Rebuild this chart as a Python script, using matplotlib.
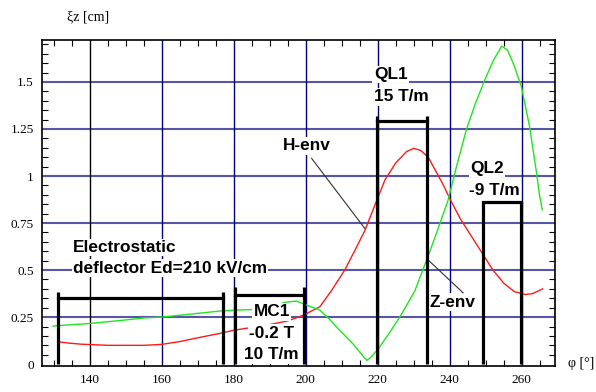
import matplotlib
matplotlib.use("Agg")
import matplotlib.pyplot as plt
from matplotlib.ticker import MultipleLocator, FixedLocator

# H-envelope (red)
h_phi = [131.2, 134, 137.7, 145, 155, 160, 165, 170, 176, 180, 185, 190, 195, 199.3,
         203.9, 207.1, 210.8, 213.5, 216.4, 219.7, 222, 225, 228, 230, 232, 234, 236,
         238, 240, 243, 246, 249, 252, 255, 258, 261, 263, 265.8]
h_env = [0.119, 0.112, 0.106, 0.10, 0.10, 0.105, 0.12, 0.14, 0.163, 0.18, 0.195, 0.21,
         0.23, 0.26, 0.305, 0.39, 0.50, 0.60, 0.71, 0.87, 0.98, 1.07, 1.13, 1.147,
         1.135, 1.10, 1.03, 0.96, 0.88, 0.77, 0.68, 0.59, 0.50, 0.43, 0.385, 0.37,
         0.375, 0.40]

# Z-envelope (green)
z_phi = [129.8, 135, 140, 150, 155.3, 160, 170, 176, 180, 185, 190, 194.6, 197.4,
         200.2, 203.9, 206.5, 209.4, 213, 216, 217, 218, 220.1, 223, 226.1, 230.3,
         233.5, 236, 239.5, 242, 244.6, 247, 249.7, 252, 254.4, 256, 257.6, 259.9,
         262.2, 264, 265, 265.7]
z_env = [0.202, 0.21, 0.216, 0.235, 0.246, 0.25, 0.27, 0.282, 0.287, 0.29, 0.305,
         0.33, 0.335, 0.314, 0.287, 0.24, 0.18, 0.11, 0.04, 0.02, 0.035, 0.08, 0.16,
         0.25, 0.39, 0.55, 0.68, 0.87, 1.06, 1.245, 1.38, 1.51, 1.61, 1.69, 1.67,
         1.60, 1.475, 1.26, 1.03, 0.89, 0.82]

# element brackets: (left, right, top bar, post height)
elements = {
    "deflector": (131.1, 177.0, 0.35, 0.385),
    "MC1": (180.3, 199.5, 0.367, 0.41),
    "QL1": (219.9, 233.8, 1.29, 1.32),
    "QL2": (249.3, 259.7, 0.86, 0.86),
}

x_ticks = [140, 160, 180, 200, 220, 240, 260]
y_ticks = [0, 0.25, 0.5, 0.75, 1, 1.25, 1.5]
y_labels = ["0", "0.25", "0.5", "0.75", "1", "1.25", "1.5"]

fig = plt.figure(figsize=(5.96, 3.92), dpi=100)
ax = fig.add_axes([0.0705, 0.066, 0.8605, 0.832])
ax.set_xlim(126.7, 269.2)
ax.set_ylim(-0.0106, 1.723)

# grid
for y in y_ticks[1:]:
    ax.axhline(y, color="#5656a6", lw=1.5, zorder=1)
for x in x_ticks:
    ax.axvline(x, color="black" if x == 140 else "#000080", lw=1.0, zorder=1)

ax.plot(h_phi, h_env, color="#ff1a1a", lw=1.0, zorder=3)
ax.plot(z_phi, z_env, color="#1ee61e", lw=1.0, zorder=3)

for name, (l, r, top, post) in elements.items():
    ax.plot([l, l], [0, post], color="black", lw=2.3, zorder=5, solid_capstyle="butt")
    ax.plot([r, r], [0, post], color="black", lw=2.3, zorder=5, solid_capstyle="butt")
    ax.plot([l, r], [top, top], color="black", lw=2.3, zorder=5)

lab = dict(family="Liberation Sans", fontweight="bold", fontsize=12.4, zorder=4,
           bbox=dict(facecolor="white", edgecolor="none", pad=1.0))
ax.text(135.3, 0.62, "Electrostatic", ha="left", va="center", **lab)
ax.text(135.3, 0.51, "deflector Ed=210 kV/cm", ha="left", va="center", **lab)
ax.text(190.5, 0.278, "MC1", ha="center", va="center", **lab)
ax.text(190.5, 0.165, "-0.2 T", ha="center", va="center", **lab)
ax.text(190.5, 0.05, "10 T/m", ha="center", va="center", **lab)
ax.text(218.9, 1.54, "QL1", ha="left", va="center", **lab)
ax.text(218.9, 1.42, "15 T/m", ha="left", va="center", **lab)
ax.text(245.6, 1.04, "QL2", ha="left", va="center", **lab)
ax.text(245.4, 0.925, "-9 T/m", ha="left", va="center", **lab)
ax.text(193.7, 1.16, "H-env", ha="left", va="center", **lab)
ax.text(234.4, 0.33, "Z-env", ha="left", va="center", **lab)

# leader lines
ax.plot([201.6, 216.4], [1.094, 0.721], color="#303030", lw=0.8, zorder=4)
ax.plot([243.7, 233.8], [0.379, 0.557], color="#303030", lw=0.8, zorder=4)

ax.xaxis.set_major_locator(FixedLocator(x_ticks))
ax.xaxis.set_minor_locator(MultipleLocator(5))
ax.yaxis.set_major_locator(FixedLocator(y_ticks))
ax.set_yticklabels(y_labels)
ax.yaxis.set_minor_locator(MultipleLocator(0.05))
ax.tick_params(which="both", direction="in", top=True, right=True, length=4,
               width=0.8, labelsize=9.5, pad=6)
ax.tick_params(which="major", length=0)
for t in ax.get_xticklabels() + ax.get_yticklabels():
    t.set_family("Liberation Serif")
for s in ax.spines.values():
    s.set_linewidth(1.2)

fig.text(0.112, 0.957, "ξz [cm]", family="Liberation Serif", fontsize=10,
         va="center", ha="left")
fig.text(0.953, 0.073, "φ [°]", family="Liberation Serif", fontsize=10,
         va="center", ha="left")

fig.savefig("out.png", dpi=100, facecolor="white")
